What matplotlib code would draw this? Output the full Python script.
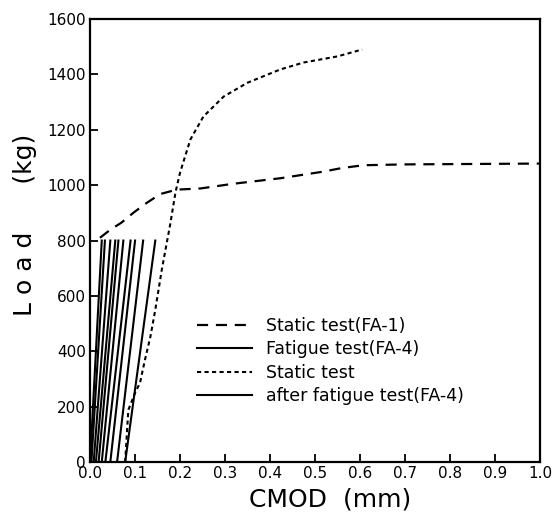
import matplotlib
matplotlib.use('Agg')
import matplotlib.pyplot as plt

# static test FA-1 (long dashes)
static_x = [0.022, 0.045, 0.07, 0.096, 0.125, 0.156, 0.193, 0.245, 0.318, 0.423, 0.519, 0.56, 0.608, 0.7, 0.8, 0.9, 1.0]
static_y = [810, 839, 865, 900, 935, 968, 984, 988, 1005, 1025, 1049, 1062, 1072, 1075, 1076, 1077, 1078]

# static test after fatigue FA-4 (short dashes)
after_x = [0.078, 0.085, 0.100, 0.111, 0.122, 0.134, 0.145, 0.160, 0.178, 0.19, 0.2, 0.223, 0.252, 0.297, 0.35, 0.423, 0.475, 0.55, 0.605]
after_y = [0, 188, 250, 286, 369, 452, 550, 700, 857, 975, 1045, 1165, 1248, 1320, 1370, 1418, 1443, 1465, 1490]

# fatigue cycles FA-4: CMOD at 0 kg and at 800 kg
fat_bottom = [0.0, 0.003, 0.008, 0.013, 0.019, 0.026, 0.034, 0.045, 0.060, 0.078]
fat_top = [0.026, 0.033, 0.045, 0.056, 0.063, 0.074, 0.090, 0.100, 0.118, 0.145]
fat_load = [0, 800]

xticks = [0.0, 0.1, 0.2, 0.3, 0.4, 0.5, 0.6, 0.7, 0.8, 0.9, 1.0]
yticks = [0, 200, 400, 600, 800, 1000, 1200, 1400, 1600]

fig = plt.figure(figsize=(5.56, 5.14), dpi=100)
ax = fig.add_axes([0.162, 0.101, 0.809, 0.862])

l1, = ax.plot(static_x, static_y, color='black', lw=1.6, dashes=(5, 3.5))
for xb, xt in zip(fat_bottom, fat_top):
    l2, = ax.plot([xb, xt], fat_load, color='black', lw=1.5)
l3, = ax.plot(after_x, after_y, color='black', lw=1.5, dashes=(2, 1.6))

ax.set_xlim(0, 1.0)
ax.set_ylim(0, 1600)
ax.set_xticks(xticks)
ax.set_yticks(yticks)
ax.set_xticklabels(['%.1f' % v for v in xticks], fontsize=11)
ax.set_yticklabels([str(v) for v in yticks], fontsize=11)
ax.tick_params(direction='in', length=6, width=1.3, pad=3)
for s in ax.spines.values():
    s.set_linewidth(1.6)

ax.set_xlabel('CMOD  (mm)', fontsize=18)
ax.xaxis.set_label_coords(0.533, -0.057)
ax.set_ylabel('L o a d      (kg)', fontsize=18)
ax.yaxis.set_label_coords(-0.118, 0.535)

leg = ax.legend([l1, l2, l3, l2],
                ['Static test(FA-1)', 'Fatigue test(FA-4)', 'Static test', 'after fatigue test(FA-4)'],
                loc='upper left', bbox_to_anchor=(0.237, 0.327), frameon=False,
                fontsize=12.5, handlelength=3.2, handletextpad=0.8,
                labelspacing=0.3, borderpad=0, borderaxespad=0)

plt.savefig('out.png', dpi=100)
